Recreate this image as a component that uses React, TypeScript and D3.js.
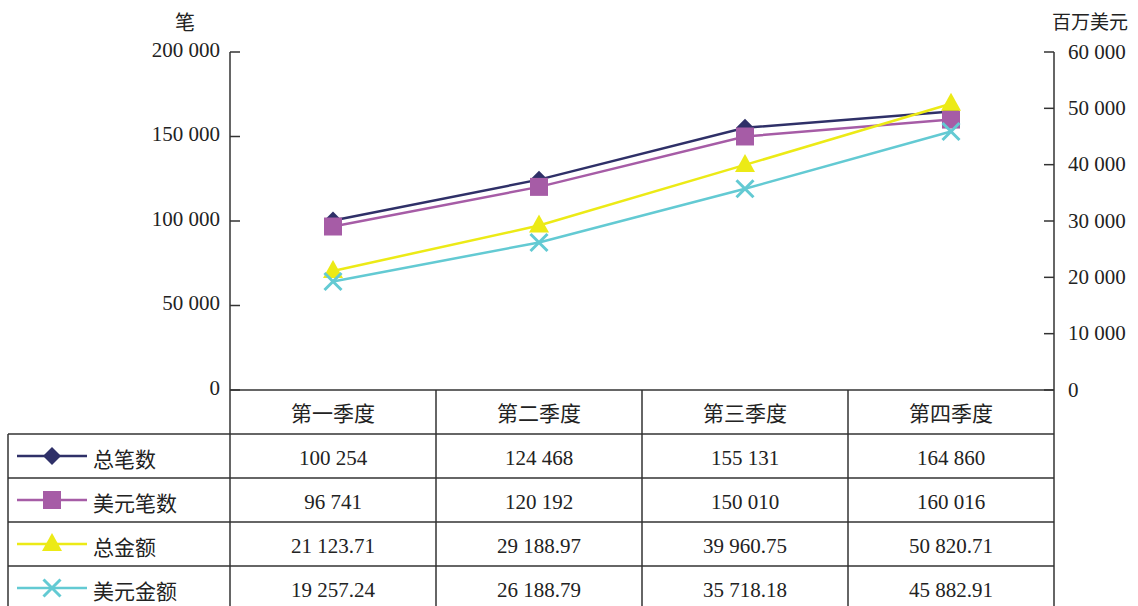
import React from "react";
import * as d3 from "d3";

const categories = ["第一季度", "第二季度", "第三季度", "第四季度"];
const seriesNames = ["总笔数", "美元笔数", "总金额", "美元金额"];
const totalCount = [100254, 124468, 155131, 164860];
const usdCount = [96741, 120192, 150010, 160016];
const totalAmount = [21123.71, 29188.97, 39960.75, 50820.71];
const usdAmount = [19257.24, 26188.79, 35718.18, 45882.91];
const tableLabels = [
  ["100 254", "124 468", "155 131", "164 860"],
  ["96 741", "120 192", "150 010", "160 016"],
  ["21 123.71", "29 188.97", "39 960.75", "50 820.71"],
  ["19 257.24", "26 188.79", "35 718.18", "45 882.91"],
];
const leftTicks = [0, 50000, 100000, 150000, 200000];
const rightTicks = [0, 10000, 20000, 30000, 40000, 50000, 60000];
const leftTitle = "笔";
const rightTitle = "百万美元";

const W = 1138;
const H = 606;
const FONT = "Liberation Serif, DejaVu Serif, Noto Sans CJK SC, serif";
const INK = "#222";
const LINE = "#333";

const x0 = 230, x1 = 1054, yTop = 52, yBase = 390;
const rowTops = [390, 434, 478, 522, 566, 610];
const tableLeft = 8;

const colors = ["#2f3068", "#a65ca6", "#ecea16", "#63cad3"];
const seriesData = [totalCount, usdCount, totalAmount, usdAmount];
const axisOf = ["L", "L", "R", "R"];

const fmt = (v: number) => d3.format(",")(v).replace(/,/g, " ");

function markerPath(kind: number, cx: number, cy: number): string {
  if (kind === 0) {
    const w = 9, h = 9;
    return `M${cx},${cy - h}L${cx + w},${cy}L${cx},${cy + h}L${cx - w},${cy}Z`;
  }
  if (kind === 1) {
    const s = 9;
    return `M${cx - s},${cy - s}H${cx + s}V${cy + s}H${cx - s}Z`;
  }
  if (kind === 2) {
    return `M${cx},${cy - 11}L${cx + 10},${cy + 7}L${cx - 10},${cy + 7}Z`;
  }
  const s = 8.5;
  return `M${cx - s},${cy - s}L${cx + s},${cy + s}M${cx - s},${cy + s}L${cx + s},${cy - s}`;
}

function Marker({ kind, cx, cy, color }: { kind: number; cx: number; cy: number; color: string }) {
  const d = markerPath(kind, cx, cy);
  if (kind === 3) return <path d={d} stroke={color} strokeWidth={3} fill="none" />;
  return <path d={d} fill={color} />;
}

export default function App() {
  const xScale = d3.scaleBand<string>().domain(categories).range([x0, x1]);
  const yL = d3.scaleLinear().domain([0, 200000]).range([yBase, yTop]);
  const yR = d3.scaleLinear().domain([0, 60000]).range([yBase, yTop]);
  const cx = (c: string) => (xScale(c) as number) + xScale.bandwidth() / 2;

  const lineGen = (axis: string) =>
    d3
      .line<number>()
      .x((_, i) => cx(categories[i]))
      .y((v) => (axis === "L" ? yL(v) : yR(v)));

  const colEdges = [x0, ...categories.slice(1).map((c) => xScale(c) as number), x1];

  return (
    <svg
      width={W}
      height={H}
      style={{ position: "absolute", left: 0, top: 0, background: "#fff", fontFamily: FONT }}
    >
      {/* axis titles */}
      <text x={185} y={25} fontSize={20} fill={INK} textAnchor="middle" dominantBaseline="middle">
        {leftTitle}
      </text>
      <text x={1090} y={25} fontSize={19} fill={INK} textAnchor="middle" dominantBaseline="middle">
        {rightTitle}
      </text>

      {/* left axis */}
      <line x1={x0} x2={x0} y1={yTop} y2={H} stroke={LINE} strokeWidth={1.5} />
      {leftTicks.map((t) => (
        <g key={"l" + t}>
          <line x1={x0} x2={x0 + 10} y1={yL(t)} y2={yL(t)} stroke={LINE} strokeWidth={1.5} />
          <text x={220} y={yL(t)} fontSize={21} fill={INK} textAnchor="end" dominantBaseline="middle">
            {fmt(t)}
          </text>
        </g>
      ))}

      {/* right axis */}
      <line x1={x1} x2={x1} y1={yTop} y2={H} stroke={LINE} strokeWidth={1.5} />
      {rightTicks.map((t) => (
        <g key={"r" + t}>
          <line x1={x1 - 10} x2={x1} y1={yR(t)} y2={yR(t)} stroke={LINE} strokeWidth={1.5} />
          <text x={1068} y={yR(t) + 2} fontSize={21} fill={INK} textAnchor="start" dominantBaseline="middle">
            {fmt(t)}
          </text>
        </g>
      ))}

      {/* table lines */}
      <line x1={x0} x2={x1} y1={yBase} y2={yBase} stroke={LINE} strokeWidth={1.5} />
      {rowTops.slice(1, 5).map((y) => (
        <line key={"h" + y} x1={tableLeft} x2={x1} y1={y} y2={y} stroke={LINE} strokeWidth={1.5} />
      ))}
      <line x1={tableLeft} x2={tableLeft} y1={rowTops[1]} y2={H} stroke={LINE} strokeWidth={1.5} />
      {colEdges.slice(1, 4).map((x) => (
        <line key={"v" + x} x1={x} x2={x} y1={yBase} y2={H} stroke={LINE} strokeWidth={1.5} />
      ))}

      {/* header */}
      {categories.map((c) => (
        <text key={c} x={cx(c)} y={(rowTops[0] + rowTops[1]) / 2 + 4} fontSize={21} fill={INK} textAnchor="middle" dominantBaseline="middle">
          {c}
        </text>
      ))}

      {/* table rows with legend */}
      {seriesNames.map((name, si) => {
        const ym = (rowTops[si + 1] + rowTops[si + 2]) / 2;
        return (
          <g key={name}>
            <line x1={17} x2={87} y1={ym} y2={ym} stroke={colors[si]} strokeWidth={2.5} />
            <Marker kind={si} cx={52} cy={ym} color={colors[si]} />
            <text x={93} y={ym + 6} fontSize={21} fill={INK} dominantBaseline="middle">
              {name}
            </text>
            {categories.map((c, ci) => (
              <text key={c} x={cx(c)} y={ym + 4} fontSize={21} fill={INK} textAnchor="middle" dominantBaseline="middle">
                {tableLabels[si][ci]}
              </text>
            ))}
          </g>
        );
      })}

      {/* series */}
      {seriesData.map((vals, si) => (
        <g key={"s" + si}>
          <path d={lineGen(axisOf[si])(vals) as string} fill="none" stroke={colors[si]} strokeWidth={2.5} />
          {vals.map((v, i) => (
            <Marker
              key={i}
              kind={si}
              cx={cx(categories[i])}
              cy={axisOf[si] === "L" ? yL(v) : yR(v)}
              color={colors[si]}
            />
          ))}
        </g>
      ))}
    </svg>
  );
}
